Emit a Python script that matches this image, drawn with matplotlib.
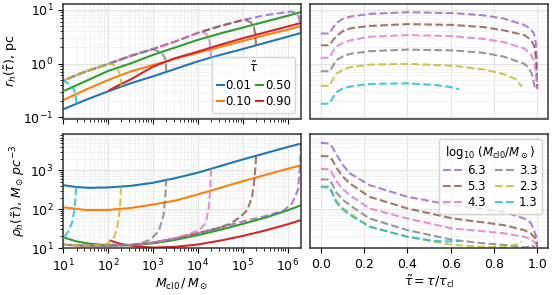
import numpy as np
import matplotlib
matplotlib.use("Agg")
import matplotlib.pyplot as plt

# ---------------- data (log10 values) ----------------
tau_labels = ["0.01", "0.10", "0.50", "0.90"]
tau_colors = ["#1f77b4", "#ff7f0e", "#2ca02c", "#d62728"]

# r_h at fixed tau vs initial mass (log10 M, log10 r_h)
rh_blue_M = [1, 1.5, 2, 2.5, 3, 3.5, 4, 4.5, 5, 5.5, 6, 6.3]
rh_blue = [-0.855, -0.68, -0.52, -0.37, -0.24, -0.10, 0.04, 0.16, 0.27, 0.385, 0.50, 0.57]
rh_orange_M = [1, 1.5, 2, 2.5, 3, 3.5, 4, 4.5, 5, 5.5, 6, 6.3]
rh_orange = [-0.685, -0.49, -0.31, -0.15, -0.03, 0.09, 0.20, 0.31, 0.42, 0.53, 0.63, 0.70]
rh_green_M = [1.05, 1.5, 2, 2.5, 3, 3.5, 4, 4.5, 5, 5.5, 6, 6.3]
rh_green = [-0.50, -0.33, -0.14, 0.0, 0.16, 0.30, 0.44, 0.56, 0.67, 0.78, 0.89, 0.96]
rh_red_M = [2.03, 2.2, 2.5, 2.75, 3, 3.5, 4, 4.5, 5, 5.5, 6, 6.3]
rh_red = [-0.50, -0.42, -0.30, -0.18, -0.06, 0.10, 0.22, 0.35, 0.47, 0.58, 0.69, 0.755]

# rho_h at fixed tau vs initial mass (log10 M, log10 rho_h)
rho_blue_M = [1, 1.3, 1.6, 2, 2.5, 3, 3.5, 4, 4.5, 5, 5.5, 6, 6.3]
rho_blue = [2.62, 2.57, 2.55, 2.56, 2.60, 2.68, 2.80, 2.94, 3.11, 3.28, 3.44, 3.60, 3.69]
rho_orange_M = [1, 1.5, 2, 2.5, 3, 3.5, 4, 4.5, 5, 5.5, 6, 6.3]
rho_orange = [2.05, 1.98, 1.98, 2.03, 2.12, 2.22, 2.38, 2.55, 2.72, 2.88, 3.04, 3.13]
rho_green_M = [1.05, 1.3, 1.6, 2, 2.5, 3, 3.5, 4, 4.5, 5, 5.5, 6, 6.3]
rho_green = [1.26, 1.17, 1.11, 1.07, 1.07, 1.12, 1.21, 1.33, 1.47, 1.62, 1.78, 1.97, 2.1]
rho_red_M = [2.05, 2.3, 2.6, 3.0, 3.5, 4, 4.5, 5, 5.5, 6, 6.3]
rho_red = [1.19, 1.10, 1.05, 1.01, 1.03, 1.09, 1.19, 1.31, 1.45, 1.61, 1.72]

mass_labels = ["6.3", "5.3", "4.3", "3.3", "2.3", "1.3"]
mass_colors = ["#9467bd", "#8c564b", "#e377c2", "#7f7f7f", "#bcbd22", "#17becf"]

# evolutionary tracks in the left panels: start of each track (log10 M, log10 value)
track_r_M = [[6.3, 6.28, 6.25, 6.18, 6.07],
             [5.3, 5.28, 5.25, 5.18, 5.07],
             [4.3, 4.28, 4.25, 4.18, 4.08],
             [3.3, 3.29, 3.28, 3.22, 3.12, 3.0],
             [2.3, 2.29, 2.27, 2.22, 2.15, 2.05],
             [1.3, 1.28, 1.24, 1.15, 1.08, 1.0]]
track_r = [[0.57, 0.75, 0.88, 0.95, 0.97],
           [0.34, 0.55, 0.685, 0.77, 0.81],
           [0.107, 0.33, 0.48, 0.56, 0.59],
           [-0.145, 0.0, 0.09, 0.17, 0.23, 0.27],
           [-0.43, -0.32, -0.22, -0.10, -0.04, 0.0],
           [-0.75, -0.6, -0.48, -0.39, -0.35, -0.32]]
# common late-time branch shared by the tracks (top panel)
late_r_M = [6.0, 5.5, 5.0, 4.5, 4.0, 3.5, 3.0, 2.5, 2.0, 1.5, 1.0, 0.9]
late_r = [0.96, 0.90, 0.81, 0.70, 0.57, 0.41, 0.27, 0.14, -0.01, -0.15, -0.32, -0.35]

track_rho_M = [[6.3, 6.29, 6.27, 6.23, 6.10, 5.92],
               [5.3, 5.29, 5.26, 5.21, 5.10, 4.95, 4.73],
               [4.3, 4.28, 4.25, 4.18, 4.05, 3.85, 3.6],
               [3.3, 3.28, 3.24, 3.13, 2.94, 2.64],
               [2.29, 2.27, 2.21, 2.14, 2.03, 1.9, 1.68],
               [1.29, 1.28, 1.25, 1.2, 1.12, 1.02, 0.95]]
track_rho = [[3.69, 3.4, 3.0, 2.49, 2.15, 1.97],
             [3.36, 3.17, 2.74, 2.32, 1.97, 1.80, 1.63],
             [3.04, 2.57, 2.06, 1.65, 1.47, 1.38, 1.29],
             [2.79, 2.37, 1.85, 1.43, 1.21, 1.09],
             [2.56, 2.03, 1.55, 1.28, 1.13, 1.08, 1.07],
             [2.56, 2.3, 1.95, 1.65, 1.43, 1.27, 1.2]]
late_rho_M = [5.5, 5.0, 4.5, 4.0, 3.5, 3.0, 2.5, 2.0, 1.5, 1.0, 0.95]
late_rho = [1.82, 1.68, 1.53, 1.38, 1.25, 1.14, 1.08, 1.06, 1.06, 1.085, 1.09]

# right panels: value vs normalised time tau
tau_A = [0, 0.04, 0.055, 0.07, 0.1, 0.135, 0.225, 0.4, 0.61, 0.75, 0.845, 0.94, 0.97, 0.985, 0.995, 1.0]
tau_G = [0, 0.04, 0.055, 0.07, 0.1, 0.135, 0.225, 0.4, 0.61, 0.75, 0.845, 0.94, 0.96, 0.975, 0.99]
tau_Y = [0, 0.04, 0.055, 0.07, 0.1, 0.135, 0.225, 0.4, 0.61, 0.75, 0.845, 0.9, 0.93]
tau_C = [0, 0.04, 0.055, 0.07, 0.1, 0.135, 0.225, 0.4, 0.53, 0.6, 0.64]
tau_grid = [tau_A, tau_A, tau_A, tau_G, tau_Y, tau_C]

r_tau = [[0.56, 0.56, 0.66, 0.75, 0.83, 0.875, 0.925, 0.956, 0.94, 0.90, 0.84, 0.72, 0.64, 0.56, 0.35, -0.47],
         [0.34, 0.34, 0.43, 0.50, 0.60, 0.655, 0.70, 0.735, 0.72, 0.68, 0.62, 0.53, 0.45, 0.34, 0.10, -0.47],
         [0.107, 0.107, 0.22, 0.31, 0.38, 0.43, 0.50, 0.53, 0.51, 0.46, 0.40, 0.28, 0.18, 0.06, -0.15, -0.47],
         [-0.145, -0.145, -0.05, 0.057, 0.13, 0.18, 0.23, 0.26, 0.245, 0.20, 0.13, -0.005, -0.08, -0.19, -0.46],
         [-0.415, -0.415, -0.30, -0.195, -0.12, -0.07, -0.02, -0.006, -0.04, -0.11, -0.195, -0.29, -0.43],
         [-0.75, -0.75, -0.64, -0.54, -0.47, -0.43, -0.38, -0.37, -0.40, -0.44, -0.48]]
rho_tau = [[3.71, 3.69, 3.58, 3.43, 3.15, 2.92, 2.62, 2.32, 2.10, 2.0, 1.93, 1.76, 1.65, 1.46, 1.30, 1.03],
           [3.37, 3.36, 3.25, 3.085, 2.85, 2.66, 2.32, 2.02, 1.76, 1.66, 1.59, 1.46, 1.38, 1.29, 1.20, 1.03],
           [3.04, 3.03, 2.90, 2.74, 2.52, 2.36, 2.02, 1.76, 1.50, 1.43, 1.38, 1.29, 1.23, 1.16, 1.10, 1.03],
           [2.77, 2.76, 2.62, 2.44, 2.25, 2.10, 1.76, 1.46, 1.21, 1.12, 1.08, 1.02, 1.03, 1.08, 1.0],
           [2.59, 2.58, 2.42, 2.23, 2.03, 1.89, 1.55, 1.29, 1.08, 1.03, 1.02, 1.08, 1.16],
           [2.57, 2.56, 2.38, 2.19, 2.0, 1.85, 1.55, 1.29, 1.18, 1.17, 1.18]]

# ---------------- figure ----------------
plt.rcParams.update({"font.size": 9, "axes.linewidth": 1.1,
                     "axes.edgecolor": "#333333"})
fig = plt.figure(figsize=(5.52, 2.95), dpi=100)
L, W = 63 / 552, 238 / 552
R = 310 / 552
H = 114.5 / 295
ax_tl = fig.add_axes([L, 1 - 118.5 / 295, W, H])
ax_bl = fig.add_axes([L, 1 - 248 / 295, W, H])
ax_tr = fig.add_axes([R, 1 - 118.5 / 295, W, H])
ax_br = fig.add_axes([R, 1 - 248 / 295, W, H])

def p(a):
    return 10 ** np.asarray(a, dtype=float)

solid_r = [(rh_blue_M, rh_blue), (rh_orange_M, rh_orange), (rh_green_M, rh_green), (rh_red_M, rh_red)]
solid_rho = [(rho_blue_M, rho_blue), (rho_orange_M, rho_orange), (rho_green_M, rho_green), (rho_red_M, rho_red)]
for (m, v), lab, c in zip(solid_r, tau_labels, tau_colors):
    ax_tl.plot(p(m), p(v), color=c, lw=1.5, label=lab)
for (m, v), c in zip(solid_rho, tau_colors):
    ax_bl.plot(p(m), p(v), color=c, lw=1.5)

dash_kw = dict(lw=1.5, ls="--", alpha=0.8)
for i, c in enumerate(mass_colors):
    m_head, v_head = track_r_M[i], track_r[i]
    m_all = list(m_head) + [mm for mm in late_r_M if mm < m_head[-1]]
    v_all = list(v_head) + [vv for mm, vv in zip(late_r_M, late_r) if mm < m_head[-1]]
    ax_tl.plot(p(m_all), p(v_all), color=c, **dash_kw)
    m_head, v_head = track_rho_M[i], track_rho[i]
    m_all = list(m_head) + [mm for mm in late_rho_M if mm < m_head[-1]]
    v_all = list(v_head) + [vv for mm, vv in zip(late_rho_M, late_rho) if mm < m_head[-1]]
    ax_bl.plot(p(m_all), p(v_all), color=c, **dash_kw)
    ax_tr.plot(tau_grid[i], p(r_tau[i]), color=c, **dash_kw)
    ax_br.plot(tau_grid[i], p(rho_tau[i]), color=c, label=mass_labels[i], **dash_kw)

for ax in (ax_tl, ax_bl, ax_tr, ax_br):
    ax.set_yscale("log")
    ax.grid(True, which="major", color="#dddddd", lw=0.6)
    ax.grid(True, which="minor", color="#eeeeee", lw=0.5)
    ax.set_axisbelow(True)
for ax in (ax_tl, ax_bl):
    ax.set_xscale("log")
    ax.set_xlim(10, 10 ** 6.3)
for ax in (ax_tr, ax_br):
    ax.set_xlim(-0.05, 1.05)
    ax.tick_params(axis="y", which="both", left=False, labelleft=False)
for ax in (ax_tl, ax_bl):
    ax.tick_params(axis="y", which="both", labelsize=9)
ax_tl.set_ylim(10 ** -1.025, 10 ** 1.11)
ax_tr.set_ylim(10 ** -1.025, 10 ** 1.11)
ax_bl.set_ylim(10, 10 ** 3.95)
ax_br.set_ylim(10, 10 ** 3.95)
ax_tl.tick_params(axis="x", which="both", labelbottom=False)
ax_tr.tick_params(axis="x", which="both", labelbottom=False, bottom=False)
ax_tr.set_xticks([0, 0.2, 0.4, 0.6, 0.8, 1.0])
ax_br.set_xticks([0, 0.2, 0.4, 0.6, 0.8, 1.0])

ax_tl.set_ylabel(r"$r_h(\tilde{\tau})$, pc", labelpad=2)
ax_bl.set_ylabel(r"$\rho_h(\tilde{\tau})$, $M_\odot\,pc^{-3}$", labelpad=2)
ax_bl.set_xlabel(r"$M_{\rm cl0}\,/\,M_\odot$", labelpad=2)
ax_br.set_xlabel(r"$\tilde{\tau} = \tau/\tau_{\rm cl}$", labelpad=2)

ax_tl.legend(title=r"$\tilde{\tau}$", ncol=2, loc="lower right", fontsize=8.5,
             title_fontsize=8.5, handlelength=0.6, handletextpad=0.15,
             columnspacing=0.4, borderpad=0.35, labelspacing=0.3)
ax_br.legend(title=r"log$_{10}$ ($M_{\rm cl0}/M_\odot$)", ncol=2, loc="upper right",
             fontsize=8.5, title_fontsize=8.5, handlelength=1.6, handletextpad=0.4,
             columnspacing=0.8, borderpad=0.4, labelspacing=0.25)

fig.savefig("out.png", dpi=100)
